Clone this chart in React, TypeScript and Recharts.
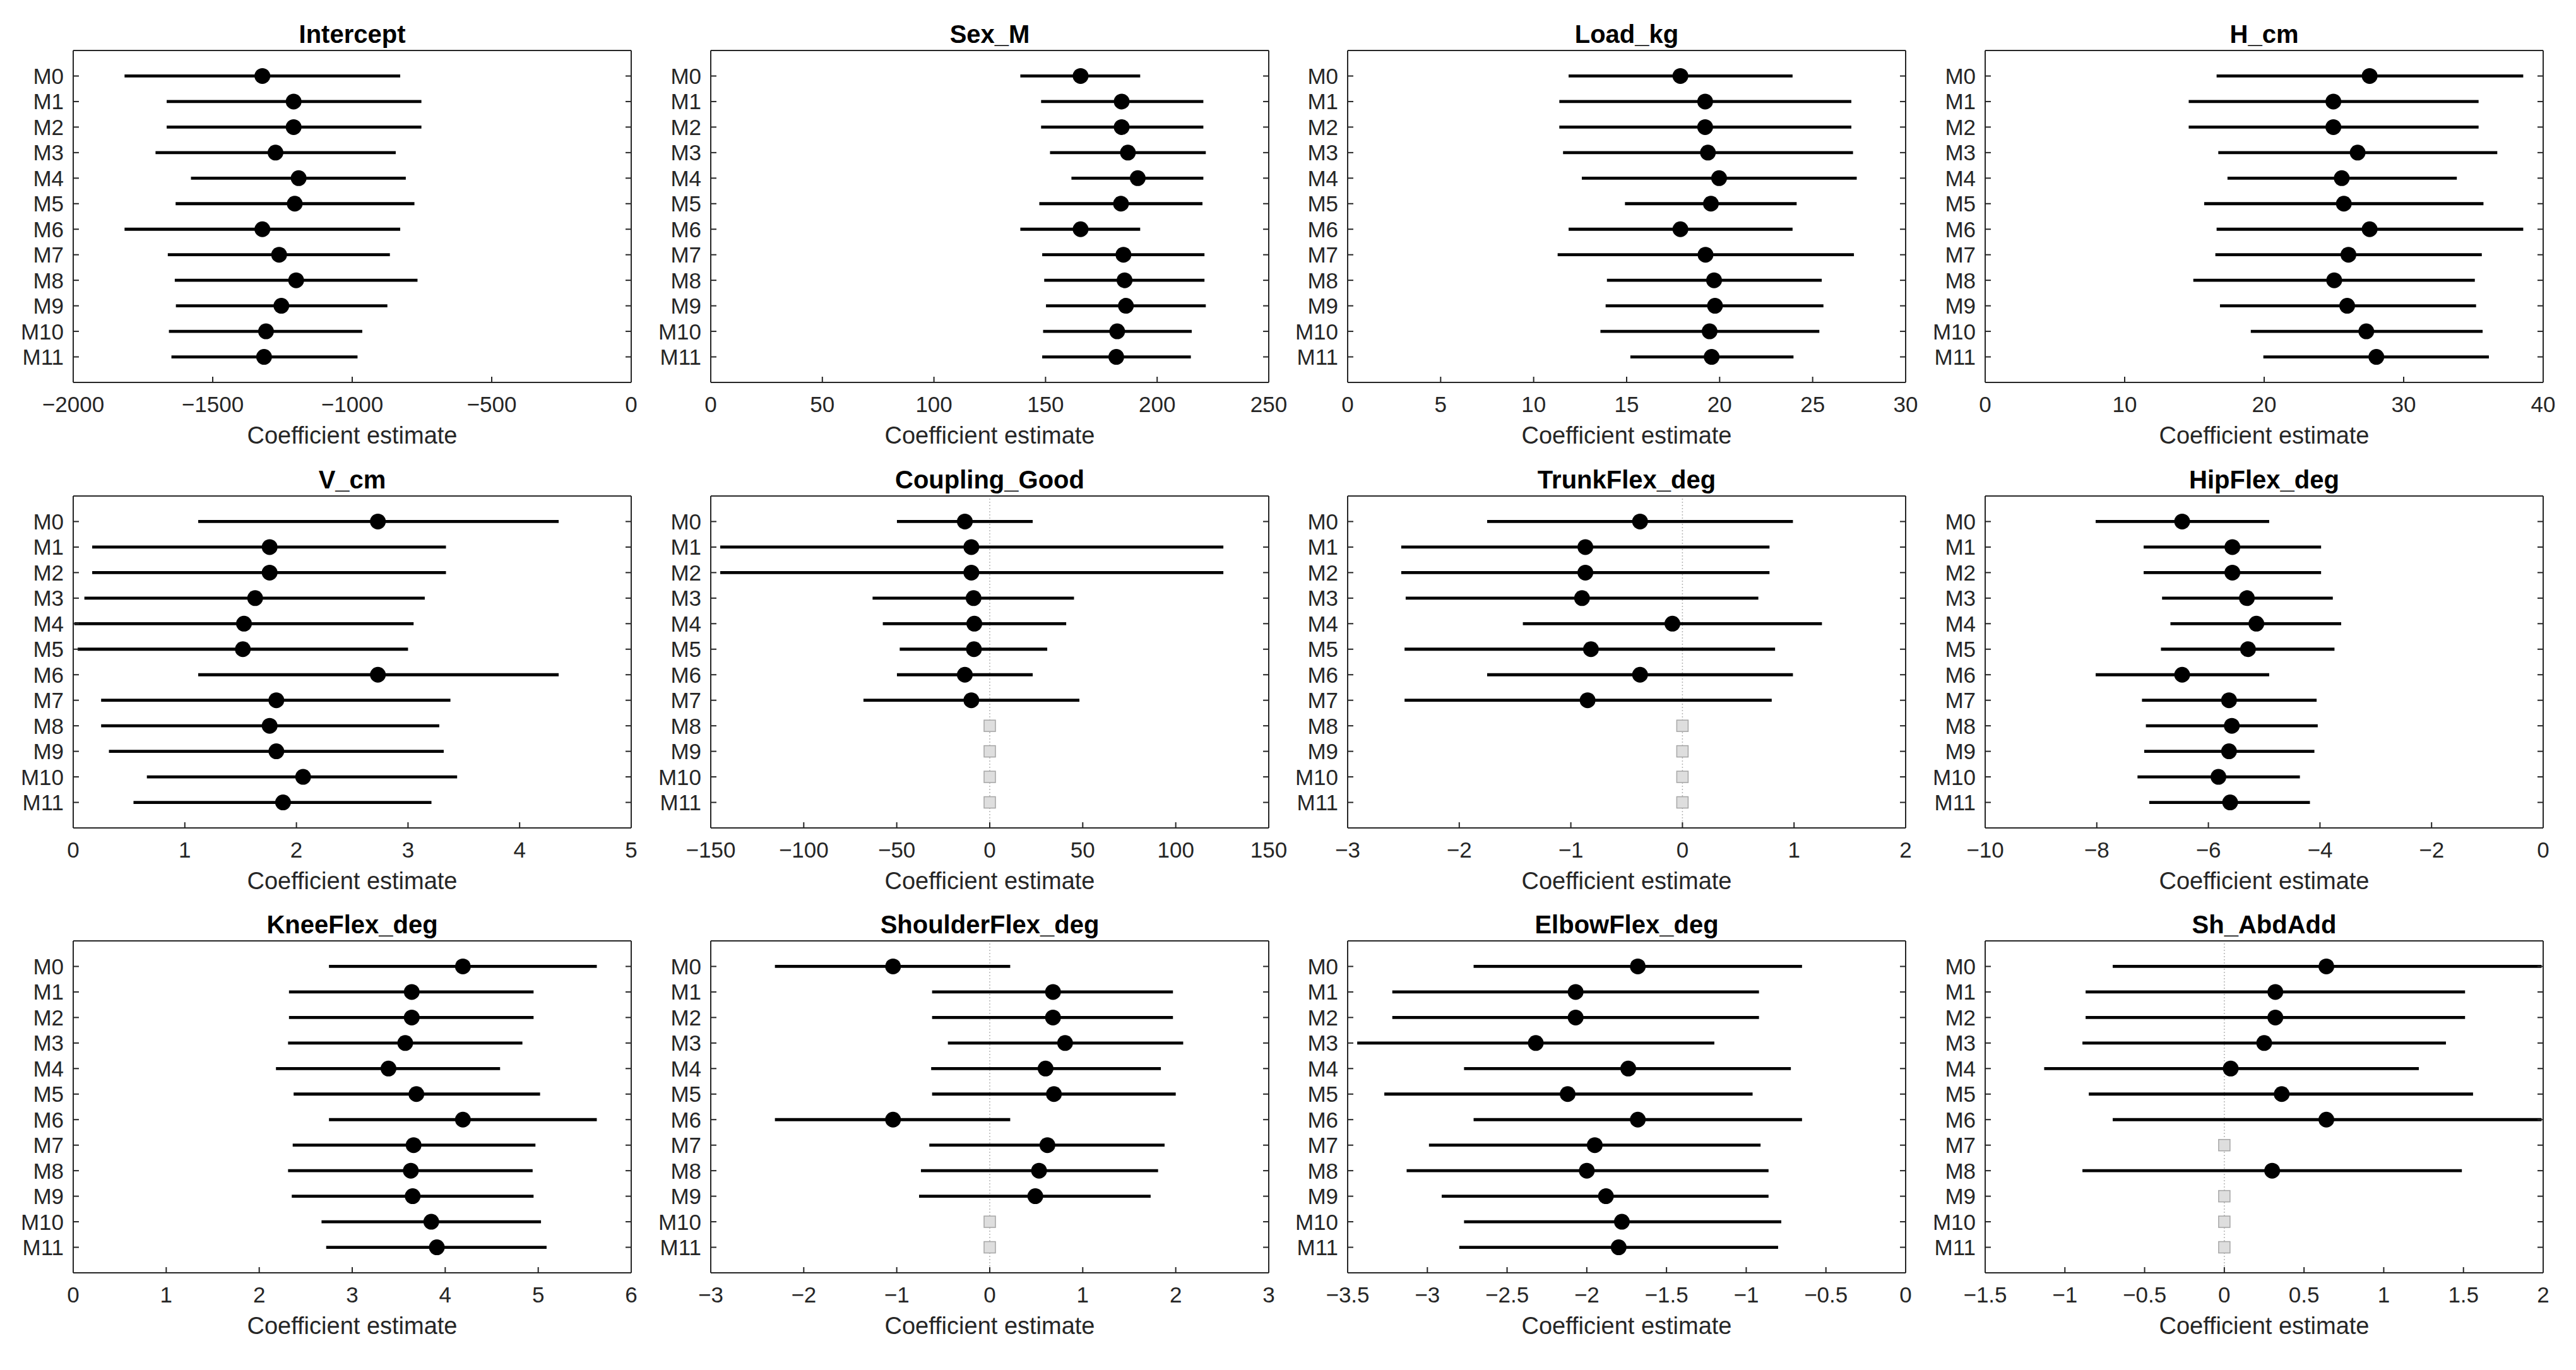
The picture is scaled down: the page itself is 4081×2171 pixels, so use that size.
import React from 'react';
import { ScatterChart, Scatter, XAxis, YAxis, ErrorBar, ReferenceLine } from 'recharts';

// ---------- data ----------
const models = ['M0', 'M1', 'M2', 'M3', 'M4', 'M5', 'M6', 'M7', 'M8', 'M9', 'M10', 'M11'];
const modelIdx = [0, 1, 2, 3, 4, 5, 6, 7, 8, 9, 10, 11];

const interceptEst = [-1322, -1210, -1210, -1275, -1192, -1206, -1322, -1262, -1201, -1254, -1309, -1316];
const interceptLo = [-1816, -1665, -1665, -1705, -1578, -1633, -1816, -1661, -1636, -1632, -1657, -1648];
const interceptHi = [-828, -752, -752, -844, -808, -777, -828, -865, -766, -874, -964, -981];
const interceptTicks = [-2000, -1500, -1000, -500, 0];

const sexEst = [165.7, 184.1, 184.1, 186.9, 191.3, 183.8, 165.7, 184.9, 185.4, 186.0, 182.1, 181.7];
const sexLo = [138.7, 148.0, 148.0, 152.0, 161.6, 147.2, 138.7, 148.5, 149.4, 150.2, 148.9, 148.5];
const sexHi = [192.4, 220.7, 220.7, 221.8, 220.7, 220.3, 192.4, 221.2, 221.2, 221.8, 215.5, 215.1];
const sexTicks = [0, 50, 100, 150, 200, 250];

const loadEst = [17.89, 19.22, 19.22, 19.37, 19.97, 19.53, 17.89, 19.24, 19.7, 19.75, 19.46, 19.57];
const loadLo = [11.88, 11.38, 11.38, 11.58, 12.59, 14.91, 11.88, 11.29, 13.94, 13.87, 13.59, 15.2];
const loadHi = [23.92, 27.08, 27.08, 27.17, 27.37, 24.14, 23.92, 27.22, 25.49, 25.58, 25.36, 23.97];
const loadTicks = [0, 5, 10, 15, 20, 25, 30];

const hEst = [27.56, 24.96, 24.96, 26.7, 25.56, 25.71, 27.56, 26.04, 25.02, 25.95, 27.32, 28.04];
const hLo = [16.59, 14.59, 14.59, 16.71, 17.37, 15.7, 16.59, 16.5, 14.92, 16.83, 19.04, 19.94];
const hHi = [38.57, 35.37, 35.37, 36.71, 33.81, 35.72, 38.57, 35.6, 35.1, 35.19, 35.66, 36.11];
const hTicks = [0, 10, 20, 30, 40];

const vEst = [2.73, 1.76, 1.76, 1.63, 1.53, 1.52, 2.73, 1.82, 1.76, 1.82, 2.06, 1.88];
const vLo = [1.12, 0.17, 0.17, 0.1, 0.01, 0.04, 1.12, 0.25, 0.25, 0.32, 0.66, 0.54];
const vHi = [4.35, 3.34, 3.34, 3.15, 3.05, 3.0, 4.35, 3.38, 3.28, 3.32, 3.44, 3.21];
const vTicks = [0, 1, 2, 3, 4, 5];

const couplingEst = [-13.4, -9.9, -9.9, -8.7, -8.3, -8.5, -13.4, -9.9, null, null, null, null];
const couplingLo = [-49.9, -144.9, -144.9, -63.0, -57.5, -48.4, -49.9, -67.9, null, null, null, null];
const couplingHi = [23.1, 125.6, 125.6, 45.3, 41.1, 30.9, 23.1, 48.2, null, null, null, null];
const couplingTicks = [-150, -100, -50, 0, 50, 100, 150];

const trunkEst = [-0.38, -0.87, -0.87, -0.9, -0.09, -0.82, -0.38, -0.85, null, null, null, null];
const trunkLo = [-1.75, -2.52, -2.52, -2.48, -1.43, -2.49, -1.75, -2.49, null, null, null, null];
const trunkHi = [0.99, 0.78, 0.78, 0.68, 1.25, 0.83, 0.99, 0.8, null, null, null, null];
const trunkTicks = [-3, -2, -1, 0, 1, 2];

const hipEst = [-6.47, -5.57, -5.57, -5.31, -5.14, -5.29, -6.47, -5.63, -5.58, -5.63, -5.82, -5.61];
const hipLo = [-8.02, -7.16, -7.16, -6.83, -6.68, -6.85, -8.02, -7.19, -7.12, -7.15, -7.27, -7.06];
const hipHi = [-4.91, -3.98, -3.98, -3.77, -3.62, -3.74, -4.91, -4.06, -4.04, -4.1, -4.36, -4.18];
const hipTicks = [-10, -8, -6, -4, -2, 0];

const kneeEst = [4.19, 3.64, 3.64, 3.57, 3.39, 3.69, 4.19, 3.66, 3.63, 3.65, 3.85, 3.91];
const kneeLo = [2.75, 2.32, 2.32, 2.31, 2.18, 2.37, 2.75, 2.36, 2.31, 2.35, 2.67, 2.72];
const kneeHi = [5.63, 4.95, 4.95, 4.83, 4.59, 5.02, 5.63, 4.97, 4.94, 4.95, 5.03, 5.09];
const kneeTicks = [0, 1, 2, 3, 4, 5, 6];

const shoulderEst = [-1.04, 0.68, 0.68, 0.81, 0.6, 0.69, -1.04, 0.62, 0.53, 0.49, null, null];
const shoulderLo = [-2.31, -0.62, -0.62, -0.45, -0.63, -0.62, -2.31, -0.65, -0.74, -0.76, null, null];
const shoulderHi = [0.22, 1.97, 1.97, 2.08, 1.84, 2.0, 0.22, 1.88, 1.81, 1.73, null, null];
const shoulderTicks = [-3, -2, -1, 0, 1, 2, 3];

const elbowEst = [-1.68, -2.07, -2.07, -2.32, -1.74, -2.12, -1.68, -1.95, -2.0, -1.88, -1.78, -1.8];
const elbowLo = [-2.71, -3.22, -3.22, -3.44, -2.77, -3.27, -2.71, -2.99, -3.13, -2.91, -2.77, -2.8];
const elbowHi = [-0.65, -0.92, -0.92, -1.2, -0.72, -0.96, -0.65, -0.91, -0.86, -0.86, -0.78, -0.8];
const elbowTicks = [-3.5, -3, -2.5, -2, -1.5, -1, -0.5, 0];

const abdEst = [0.64, 0.32, 0.32, 0.25, 0.04, 0.36, 0.64, null, 0.3, null, null, null];
const abdLo = [-0.7, -0.87, -0.87, -0.89, -1.13, -0.85, -0.7, null, -0.89, null, null, null];
const abdHi = [1.99, 1.51, 1.51, 1.39, 1.22, 1.56, 1.99, null, 1.49, null, null, null];
const abdTicks = [-1.5, -1, -0.5, 0, 0.5, 1, 1.5, 2];

type Arr = (number | null)[];
type Panel = { title: string; est: Arr; lo: Arr; hi: Arr; ticks: number[] };

const panels: Panel[] = [
  { title: 'Intercept', est: interceptEst, lo: interceptLo, hi: interceptHi, ticks: interceptTicks },
  { title: 'Sex_M', est: sexEst, lo: sexLo, hi: sexHi, ticks: sexTicks },
  { title: 'Load_kg', est: loadEst, lo: loadLo, hi: loadHi, ticks: loadTicks },
  { title: 'H_cm', est: hEst, lo: hLo, hi: hHi, ticks: hTicks },
  { title: 'V_cm', est: vEst, lo: vLo, hi: vHi, ticks: vTicks },
  { title: 'Coupling_Good', est: couplingEst, lo: couplingLo, hi: couplingHi, ticks: couplingTicks },
  { title: 'TrunkFlex_deg', est: trunkEst, lo: trunkLo, hi: trunkHi, ticks: trunkTicks },
  { title: 'HipFlex_deg', est: hipEst, lo: hipLo, hi: hipHi, ticks: hipTicks },
  { title: 'KneeFlex_deg', est: kneeEst, lo: kneeLo, hi: kneeHi, ticks: kneeTicks },
  { title: 'ShoulderFlex_deg', est: shoulderEst, lo: shoulderLo, hi: shoulderHi, ticks: shoulderTicks },
  { title: 'ElbowFlex_deg', est: elbowEst, lo: elbowLo, hi: elbowHi, ticks: elbowTicks },
  { title: 'Sh_AbdAdd', est: abdEst, lo: abdLo, hi: abdHi, ticks: abdTicks },
];

// ---------- styling ----------
const FONT = '"Liberation Sans", Arial, Helvetica, sans-serif';
const AXIS = '#262626';
const CHART_W = 1070;
const CHART_H = 720;
const COL_PITCH = 1009.7;
const ROW_PITCH = 705.5;

const fmt = (v: number) => (v < 0 ? '\u2212' + String(Math.abs(v)) : String(v));

const DotShape = (p: any) => <circle cx={p.cx} cy={p.cy} r={12.5} fill="#000" />;
const DroppedShape = (p: any) => (
  <rect x={p.cx - 9} y={p.cy - 9} width={18} height={18} fill="#dedede" stroke="#a6a6a6" strokeWidth={1.5} />
);
const NoTick = () => <g />;

function CoefPanel({ panel, left, top }: { panel: Panel; left: number; top: number }) {
  const domain: [number, number] = [panel.ticks[0], panel.ticks[panel.ticks.length - 1]];
  const shown: any[] = [];
  const dropped: any[] = [];
  panel.est.forEach((e, i) => {
    if (e == null) {
      dropped.push({ x: 0, y: i });
    } else {
      shown.push({ x: e, y: i, err: [e - (panel.lo[i] as number), (panel.hi[i] as number) - e] });
    }
  });
  const zeroInside = domain[0] < 0 && domain[1] > 0;
  return (
    <div style={{ position: 'absolute', left, top, width: CHART_W, height: CHART_H }}>
      <ScatterChart width={CHART_W} height={CHART_H} margin={{ top: 79, right: 69, bottom: 4, left: 36 }}>
        <XAxis
          xAxisId="b"
          type="number"
          dataKey="x"
          domain={domain}
          ticks={panel.ticks}
          interval={0}
          allowDataOverflow
          tickFormatter={fmt}
          tickSize={-9}
          tickMargin={31}
          height={110}
          stroke={AXIS}
          strokeWidth={2}
          tick={{ fontSize: 35, fill: AXIS, fontFamily: FONT }}
          label={{ value: 'Coefficient estimate', position: 'insideTop', offset: 70, fontSize: 38, fill: AXIS, fontFamily: FONT }}
        />
        <XAxis
          xAxisId="t"
          orientation="top"
          type="number"
          domain={domain}
          ticks={panel.ticks}
          interval={0}
          allowDataOverflow
          tick={NoTick}
          tickSize={-9}
          height={1}
          stroke={AXIS}
          strokeWidth={2}
          label={{ value: panel.title, position: 'top', offset: 11, fontSize: 40, fontWeight: 700, fill: '#000', fontFamily: FONT }}
        />
        <YAxis
          yAxisId="l"
          type="number"
          dataKey="y"
          domain={[-1, 12]}
          reversed
          ticks={modelIdx}
          interval={0}
          allowDataOverflow
          tickFormatter={(v: number) => models[v]}
          tickSize={-9}
          tickMargin={24}
          width={80}
          stroke={AXIS}
          strokeWidth={2}
          tick={{ fontSize: 35, fill: AXIS, fontFamily: FONT }}
        />
        <YAxis
          yAxisId="r"
          orientation="right"
          type="number"
          domain={[-1, 12]}
          reversed
          ticks={modelIdx}
          interval={0}
          allowDataOverflow
          tick={NoTick}
          tickSize={-9}
          width={1}
          stroke={AXIS}
          strokeWidth={2}
        />
        {zeroInside && (
          <ReferenceLine xAxisId="b" yAxisId="l" x={0} stroke="#b4b4b4" strokeWidth={1.5} strokeDasharray="2 3" />
        )}
        <Scatter xAxisId="b" yAxisId="l" data={shown} shape={DotShape} isAnimationActive={false}>
          <ErrorBar dataKey="err" direction="x" width={0} stroke="#000" strokeWidth={4.8} isAnimationActive={false} />
        </Scatter>
        <Scatter xAxisId="b" yAxisId="l" data={dropped} shape={DroppedShape} isAnimationActive={false} />
      </ScatterChart>
    </div>
  );
}

export default function App() {
  return (
    <div style={{ position: 'absolute', left: 0, top: 0, width: 4081, height: 2171, background: '#fff', overflow: 'hidden' }}>
      {panels.map((p, i) => (
        <CoefPanel
          key={p.title}
          panel={p}
          left={Math.round((i % 4) * COL_PITCH)}
          top={Math.round(Math.floor(i / 4) * ROW_PITCH)}
        />
      ))}
    </div>
  );
}
